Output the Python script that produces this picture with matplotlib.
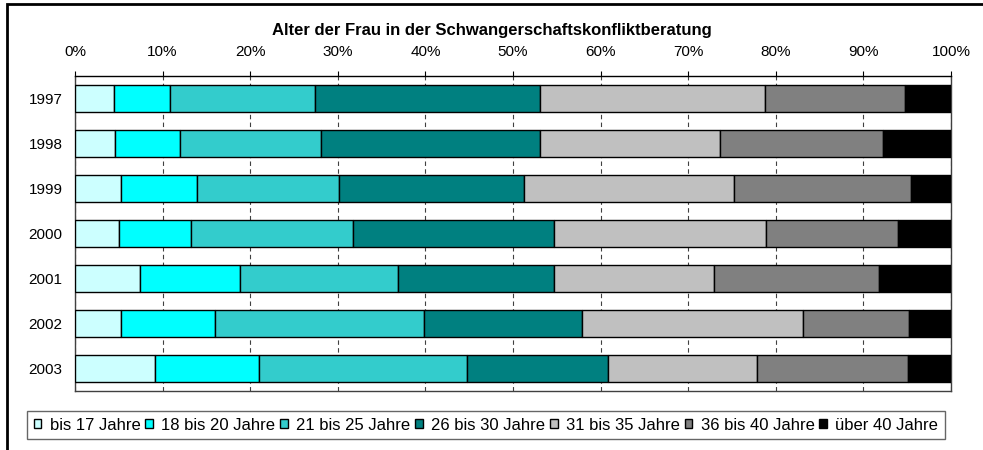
import numpy as np
import matplotlib.pyplot as plt
from matplotlib.patches import Rectangle

plt.rcParams['font.family'] = ['Liberation Sans', 'DejaVu Sans']

years = ['1997', '1998', '1999', '2000', '2001', '2002', '2003']
groups = ['bis 17 Jahre', '18 bis 20 Jahre', '21 bis 25 Jahre', '26 bis 30 Jahre',
          '31 bis 35 Jahre', '36 bis 40 Jahre', 'über 40 Jahre']
colors = ['#CCFFFF', '#00FFFF', '#33CCCC', '#008080', '#C0C0C0', '#808080', '#000000']

# Anteile in Prozent, je Jahr
bis17 = [4.4, 4.6, 5.3, 5.0, 7.4, 5.3, 9.1]
a18_20 = [6.5, 7.4, 8.6, 8.3, 11.5, 10.7, 11.9]
a21_25 = [16.5, 16.1, 16.2, 18.5, 18.0, 23.8, 23.8]
a26_30 = [25.7, 25.0, 21.2, 22.9, 17.8, 18.1, 16.0]
a31_35 = [25.7, 20.5, 23.9, 24.3, 18.3, 25.2, 17.1]
a36_40 = [16.0, 18.6, 20.2, 15.0, 18.9, 12.1, 17.2]
ueber40 = [5.2, 7.8, 4.6, 6.1, 8.2, 4.8, 4.9]

series = [bis17, a18_20, a21_25, a26_30, a31_35, a36_40, ueber40]

fig = plt.figure(figsize=(9.83, 4.5), dpi=100)
ax = fig.add_axes([75/983, 1 - 391/450, 876/983, 315/450])

y = np.arange(len(years))
data = np.array(series, dtype=float)
data = data / data.sum(axis=0) * 100
left = np.zeros(len(years))
for vals, col, lab in zip(data, colors, groups):
    ax.barh(y, vals, left=left, height=0.59, color=col, edgecolor='black',
            linewidth=1.0, label=lab, zorder=3)
    left += vals

ax.set_xlim(0, 100)
ax.set_ylim(len(years) - 0.5, -0.5)
ax.set_yticks(y)
ax.set_yticklabels(years, fontsize=11)
ax.set_xticks(np.arange(0, 101, 10))
ax.set_xticklabels([f'{v}%' for v in range(0, 101, 10)], fontsize=11)
ax.xaxis.tick_top()
ax.tick_params(axis='x', direction='out', length=3.6, width=0.8, pad=9,
               bottom=False, top=True)
ax.tick_params(axis='y', length=0, pad=9)
ax.grid(axis='x', color='#404040', linestyle=(0, (4, 3)), linewidth=0.8, zorder=0)
for s in ax.spines.values():
    s.set_color('#404040')
    s.set_linewidth(1.0)
ax.spines['top'].set_color('black')

fig.text(0.5, 1 - 30/450, 'Alter der Frau in der Schwangerschaftskonfliktberatung',
         ha='center', va='center', fontsize=12, fontweight='bold')

leg = fig.legend(loc='center', ncol=7, bbox_to_anchor=(27/983, 9/450, 918/983, 32/450),
                 fontsize=12, frameon=True, fancybox=False, edgecolor='#404040',
                 handlelength=0.45, handleheight=0.45, handletextpad=0.5,
                 columnspacing=0.3, borderpad=0.4, borderaxespad=0)
leg.get_frame().set_linewidth(1.0)

# Rahmen der Grafik (links und oben sichtbar)
fig.patches.append(Rectangle((7/983, -0.1), 1.2, 1 - 4/450 + 0.1, transform=fig.transFigure,
                             fill=False, edgecolor='black', linewidth=2.0))

fig.savefig('out.png', dpi=100)
